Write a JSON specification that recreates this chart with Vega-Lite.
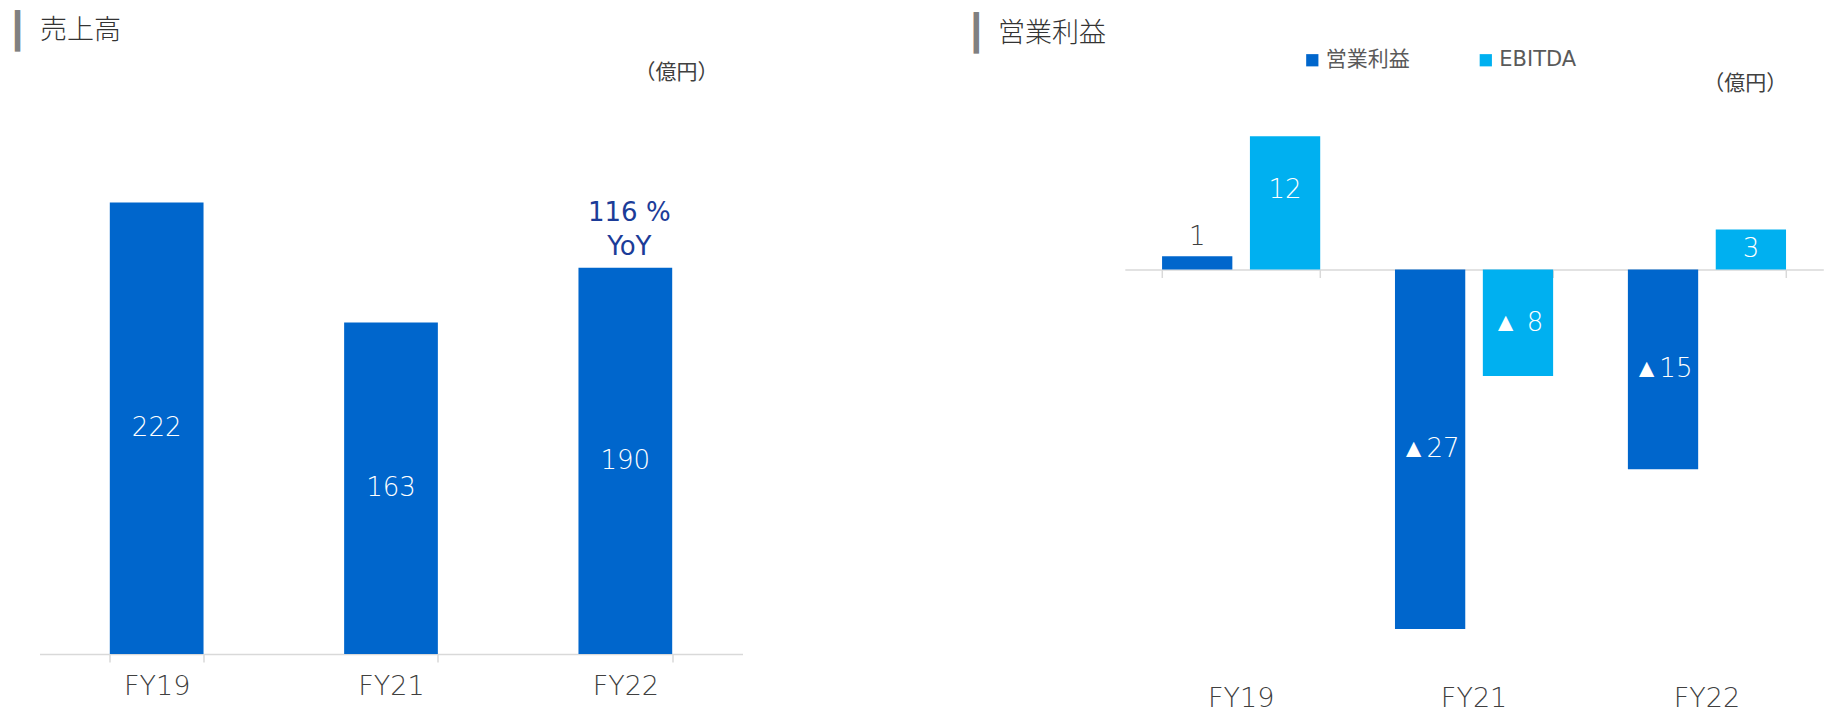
{
  "$schema": "https://vega.github.io/schema/vega-lite/v6.json",
  "padding": {"left": 6.5, "top": 14, "right": 0, "bottom": 0},
  "autosize": {"type": "pad"},
  "background": "white",
  "spacing": 382.3,
  "bounds": "flush",
  "config": {"view": {"stroke": null}, "axis": {"grid": false}},
  "resolve": {"legend": {"color": "independent"}},
  "hconcat": [
    {
      "width": 703,
      "height": 549,
      "data": {"values": [
        {"fy": "FY19", "sales": 222},
        {"fy": "FY21", "sales": 163},
        {"fy": "FY22", "sales": 190}
      ]},
      "encoding": {
        "x": {"field": "fy", "type": "nominal", "sort": ["FY19", "FY21", "FY22"],
          "scale": {"paddingInner": 0.6, "paddingOuter": 0.3},
          "axis": {"title": null, "labelAngle": 0, "labelFont": "DejaVu Sans", "labelFontWeight": 200, "labelFontSize": 27, "labelColor": "#404040", "labelPadding": 11,
            "tickBand": "extent", "tickSize": 8, "tickColor": "#d9d9d9", "tickWidth": 1.5, "domainColor": "#d9d9d9", "domainWidth": 1.5}}
      },
      "layer": [
        {
          "mark": {"type": "bar", "color": "#0066cc"},
          "encoding": {
            "y": {"field": "sales", "type": "quantitative", "scale": {"domain": [0, 270], "nice": false},
              "axis": {"orient": "left", "labels": false, "ticks": false, "domain": false, "grid": false,
                "title": "┃", "titleFont": "DejaVu Sans", "titleFontSize": 35, "titleFontWeight": "normal", "titleColor": "#808080",
                "titleAngle": 0, "titleAlign": "center", "titleBaseline": "alphabetic", "titleX": -22.4, "titleY": -62.8}}
          }
        },
        {
          "transform": [{"calculate": "datum.sales / 2", "as": "mid"}],
          "mark": {"type": "text", "color": "white", "font": "DejaVu Sans", "fontWeight": 200, "fontSize": 26, "baseline": "middle"},
          "encoding": {
            "y": {"field": "mid", "type": "quantitative", "scale": {"domain": [0, 270], "nice": false},
              "axis": {"orient": "right", "labels": false, "ticks": false, "domain": false, "grid": false,
                "title": "（億円）", "titleFont": "Noto Sans CJK JP", "titleFontSize": 21, "titleFontWeight": "normal", "titleColor": "#404040",
                "titleAngle": 0, "titleAlign": "right", "titleBaseline": "middle", "titleX": -24.4, "titleY": -32.5}},
            "text": {"field": "sales", "type": "quantitative"}
          }
        },
        {
          "transform": [{"filter": "datum.fy === 'FY22'"}],
          "mark": {"type": "text", "color": "#1c3c98", "font": "DejaVu Sans", "fontSize": 26, "baseline": "middle", "lineBreak": "\n", "lineHeight": 34, "dy": -54.7, "dx": 4},
          "encoding": {
            "y": {"field": "sales", "type": "quantitative", "scale": {"domain": [0, 270], "nice": false},
              "axis": {"orient": "left", "labels": false, "ticks": false, "domain": false, "grid": false,
                "title": "売上高", "titleFont": "Noto Sans CJK JP", "titleFontSize": 27, "titleFontWeight": 300, "titleColor": "#333333",
                "titleAngle": 0, "titleAlign": "left", "titleBaseline": "middle", "titleX": 0, "titleY": -74.5}},
            "text": {"value": "116 %\nYoY"}
          }
        }
      ],
      "resolve": {"axis": {"y": "independent"}}
    },
    {
      "width": 698.5,
      "height": 564,
      "data": {"values": [
        {"fy": "FY19", "series": "営業利益", "value": 1, "label": "1", "lv": 1},
        {"fy": "FY19", "series": "EBITDA", "value": 10, "label": "12", "lv": 12},
        {"fy": "FY21", "series": "営業利益", "value": -27, "label": "▲27", "lv": -27},
        {"fy": "FY21", "series": "EBITDA", "value": -8, "label": "▲ 8", "lv": -8},
        {"fy": "FY22", "series": "営業利益", "value": -15, "label": "▲15", "lv": -15},
        {"fy": "FY22", "series": "EBITDA", "value": 3, "label": "3", "lv": 3}
      ]},
      "encoding": {
        "xOffset": {"field": "series", "type": "nominal", "sort": ["営業利益", "EBITDA"], "scale": {"paddingInner": 0.2, "paddingOuter": 0}}
      },
      "layer": [
        {
          "mark": {"type": "bar"},
          "encoding": {
            "x": {"field": "fy", "type": "nominal", "sort": ["FY19", "FY21", "FY22"],
              "scale": {"paddingInner": 0.321, "paddingOuter": 0.16},
              "axis": {"orient": "bottom", "title": null, "labelAngle": 0, "labelFont": "DejaVu Sans", "labelFontWeight": 200, "labelFontSize": 27, "labelColor": "#404040", "labelPadding": 16,
                "ticks": false, "tickSize": 0, "domain": false}},
            "y": {"field": "value", "type": "quantitative", "scale": {"domain": [-30, 12.35], "nice": false, "zero": false},
              "axis": {"orient": "left", "labels": false, "ticks": false, "domain": false, "grid": false,
                "title": "┃", "titleFont": "DejaVu Sans", "titleFontSize": 35, "titleFontWeight": "normal", "titleColor": "#808080",
                "titleAngle": 0, "titleAlign": "center", "titleBaseline": "alphabetic", "titleX": -149.1, "titleY": -60.3}},
            "color": {"field": "series", "type": "nominal", "sort": ["営業利益", "EBITDA"],
              "scale": {"domain": ["営業利益", "EBITDA"], "range": ["#0066cc", "#00b0f0"]},
              "legend": {"orient": "none", "legendX": 177, "legendY": -55.5, "direction": "horizontal", "title": null,
                "symbolType": "square", "symbolSize": 150, "symbolStrokeWidth": 0,
                "labelFont": "DejaVu Sans, Noto Sans CJK JP", "labelFontSize": 21, "labelColor": "#5a5a5a", "labelOffset": 3, "columnPadding": 65.5}}
          }
        },
        {
          "transform": [{"filter": "!(datum.fy === 'FY19' && datum.series === '営業利益')"}, {"calculate": "datum.lv / 2", "as": "mid"}],
          "mark": {"type": "text", "color": "white", "font": "DejaVu Sans", "fontWeight": 200, "fontSize": 26, "baseline": "middle"},
          "encoding": {
            "x": {"field": "fy", "type": "nominal", "sort": ["FY19", "FY21", "FY22"],
              "scale": {"paddingInner": 0.321, "paddingOuter": 0.16},
              "axis": {"orient": "top", "offset": -164.5, "labels": false, "title": null, "ticks": true, "tickBand": "extent", "tickSize": -8,
                "tickColor": "#d9d9d9", "tickWidth": 1.5, "domain": true, "domainColor": "#d9d9d9", "domainWidth": 1.5}},
            "y": {"field": "mid", "type": "quantitative", "scale": {"domain": [-30, 12.35], "nice": false, "zero": false},
              "axis": {"orient": "right", "labels": false, "ticks": false, "domain": false, "grid": false,
                "title": "（億円）", "titleFont": "Noto Sans CJK JP", "titleFontSize": 21, "titleFontWeight": "normal", "titleColor": "#404040",
                "titleAngle": 0, "titleAlign": "right", "titleBaseline": "middle", "titleX": -36.6, "titleY": -22}},
            "text": {"field": "label"}
          }
        },
        {
          "transform": [{"filter": "datum.fy === 'FY19' && datum.series === '営業利益'"}],
          "mark": {"type": "text", "color": "#404040", "font": "DejaVu Sans", "fontWeight": 200, "fontSize": 26, "baseline": "middle", "dy": -18.7},
          "encoding": {
            "x": {"field": "fy", "type": "nominal", "sort": ["FY19", "FY21", "FY22"],
              "scale": {"paddingInner": 0.321, "paddingOuter": 0.16}, "axis": null},
            "y": {"field": "value", "type": "quantitative", "scale": {"domain": [-30, 12.35], "nice": false, "zero": false},
              "axis": {"orient": "left", "labels": false, "ticks": false, "domain": false, "grid": false,
                "title": "営業利益", "titleFont": "Noto Sans CJK JP", "titleFontSize": 27, "titleFontWeight": 300, "titleColor": "#333333",
                "titleAngle": 0, "titleAlign": "left", "titleBaseline": "middle", "titleX": -127.2, "titleY": -72}},
            "text": {"field": "label"}
          }
        }
      ],
      "resolve": {"axis": {"x": "independent", "y": "independent"}}
    }
  ]
}
